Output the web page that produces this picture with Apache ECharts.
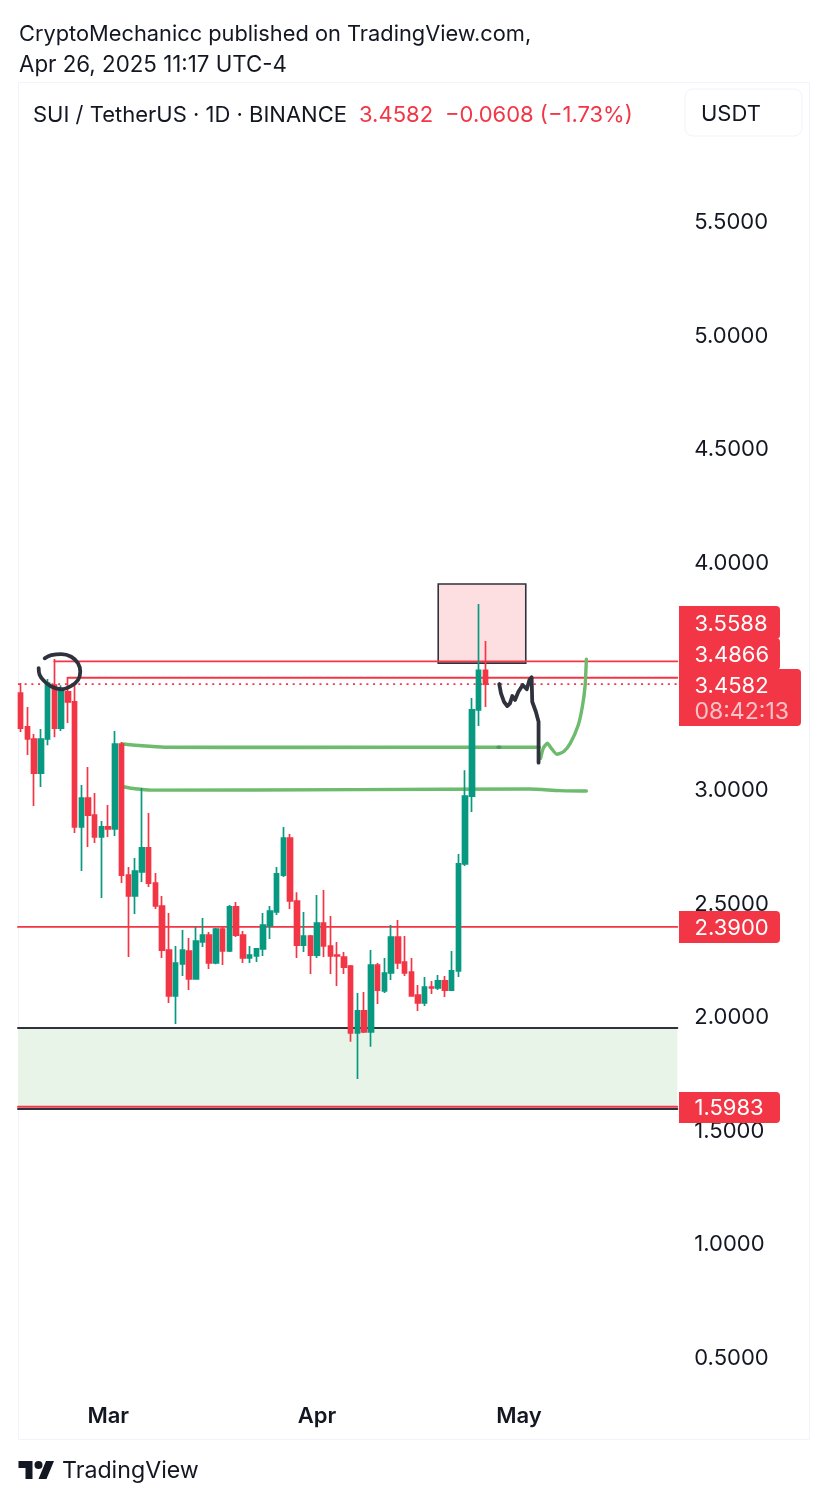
<!DOCTYPE html>
<html><head><meta charset="utf-8">
<style>html,body{margin:0;padding:0;background:#fff}#c{width:828px;height:1504px}</style>
<script src="https://cdn.jsdelivr.net/npm/echarts@6/dist/echarts.min.js"></script>
</head><body><div id="c"></div>
<script>
const dates=['Feb 16','Feb 17','Feb 18','Feb 19','Feb 20','Feb 21','Feb 22','Feb 23','Feb 24','Feb 25','Feb 26','Feb 27','Feb 28',
'Mar 1','Mar 2','Mar 3','Mar 4','Mar 5','Mar 6','Mar 7','Mar 8','Mar 9','Mar 10','Mar 11','Mar 12','Mar 13','Mar 14','Mar 15','Mar 16','Mar 17','Mar 18','Mar 19','Mar 20','Mar 21','Mar 22','Mar 23','Mar 24','Mar 25','Mar 26','Mar 27','Mar 28','Mar 29','Mar 30','Mar 31',
'Apr 1','Apr 2','Apr 3','Apr 4','Apr 5','Apr 6','Apr 7','Apr 8','Apr 9','Apr 10','Apr 11','Apr 12','Apr 13','Apr 14','Apr 15','Apr 16','Apr 17','Apr 18','Apr 19','Apr 20','Apr 21','Apr 22','Apr 23','Apr 24','Apr 25','Apr 26','Apr 27','Apr 28','Apr 29','Apr 30',
'May 1','May 2','May 3','May 4','May 5','May 6','May 7','May 8','May 9','May 10','May 11','May 12','May 13','May 14','May 15','May 16','May 17','May 18','May 19','May 20','May 21','May 22','May 23','May 24'];
const monthTicks={'Mar 1':'Mar','Apr 1':'Apr','May 1':'May'};
const priceTicks=[0.5,1,1.5,2,2.5,3,4,4.5,5,5.5];

const open=[3.419,3.270,3.217,3.067,3.217,3.454,3.265,3.424,3.380,2.830,2.957,2.882,2.786,2.830,2.821,3.195,2.618,2.526,2.632,2.738,2.583,2.482,2.288,2.086,2.227,2.284,2.161,2.324,2.354,2.231,2.380,2.284,2.478,2.354,2.253,2.262,2.293,2.394,2.456,2.618,2.781,2.504,2.310,2.350,2.266,2.407,2.306,2.266,2.257,2.218,1.923,2.020,1.928,2.222,2.108,2.187,2.345,2.235,2.191,2.090,2.055,2.125,2.121,2.152,2.112,2.196,2.667,2.966,3.345,3.519];
const high=[3.463,3.358,3.239,3.261,3.481,3.569,3.454,3.490,3.454,3.014,3.094,2.979,2.856,2.926,3.252,3.204,2.654,2.693,3.001,2.891,2.627,2.526,2.451,2.306,2.376,2.341,2.389,2.429,2.367,2.385,2.389,2.486,2.500,2.372,2.306,2.297,2.451,2.482,2.654,2.830,2.799,2.543,2.456,2.354,2.530,2.552,2.438,2.324,2.279,2.222,2.099,2.103,2.288,2.231,2.253,2.398,2.420,2.350,2.253,2.134,2.169,2.152,2.178,2.174,2.284,2.711,3.080,3.397,3.811,3.648];
const low=[3.248,3.147,2.922,3.006,3.190,3.225,3.252,3.287,2.803,2.636,2.742,2.759,2.517,2.786,2.790,2.583,2.257,2.447,2.588,2.566,2.469,2.253,2.055,1.963,2.174,2.112,2.161,2.302,2.205,2.226,2.222,2.280,2.345,2.231,2.231,2.235,2.262,2.337,2.442,2.610,2.469,2.253,2.280,2.183,2.253,2.257,2.183,2.130,2.183,1.884,1.720,1.923,1.862,2.051,2.099,2.156,2.205,2.174,2.086,2.020,2.042,2.095,2.112,2.081,2.108,2.169,2.658,2.896,3.274,3.358];
const close=[3.265,3.217,3.067,3.217,3.463,3.265,3.424,3.380,2.830,2.957,2.882,2.786,2.830,2.821,3.195,2.618,2.526,2.636,2.738,2.583,2.482,2.288,2.086,2.231,2.288,2.161,2.328,2.354,2.231,2.380,2.284,2.478,2.354,2.253,2.266,2.293,2.398,2.460,2.623,2.781,2.504,2.310,2.350,2.266,2.407,2.306,2.262,2.262,2.213,1.923,2.020,1.928,2.222,2.112,2.187,2.345,2.231,2.187,2.086,2.055,2.125,2.121,2.152,2.112,2.196,2.667,2.966,3.345,3.519,3.4582];

// horizontal levels: [first bar index, price]
const resistanceHigh=[[5,3.5588],[97.5,3.5588]];
const resistanceLow=[[7,3.4866],[97.5,3.4866]];
const lastPrice=[[-0.4,3.4582],[97.5,3.4582]];
const midLevel=[[-0.4,2.39],[97.5,2.39]];
const lowLevel=[[-0.4,1.5983],[97.5,1.5983]];
const zoneTop=[[-0.4,1.945],[97.5,1.945]];
const zoneBottom=[[-0.4,1.588],[97.5,1.588]];
const supplyBox={x0:62,x1:75,top:3.899,bottom:3.551};
// hand drawings, [fractional bar index, price]
const greenUpper=[[15.2,3.195],[18,3.187],[21.4,3.181],[40,3.180],[77,3.181]];
const greenLower=[[15.2,3.007],[17,2.998],[19.4,2.992],[50,2.994],[75.6,2.997],[80,2.990],[84,2.988]];
const greenCurve=[[77.2,3.132],[77.6,3.176],[78.2,3.198],[78.8,3.176],[79.6,3.150],[80.6,3.161],[81.6,3.198],[82.8,3.279],[83.4,3.359],[83.8,3.448],[84,3.568]];
const greenSpeck=[[70.9,3.181],[71.1,3.181]];
const blackPath=[[71.06,3.459],[71.32,3.418],[71.76,3.381],[72.25,3.362],[72.65,3.374],[73,3.406],[73.4,3.389],[73.9,3.425],[74.55,3.455],[75.15,3.436],[75.54,3.477],[75.87,3.489],[75.96,3.381],[76.5,3.337],[76.9,3.293],[76.9,3.113]];
const blackCircle=[[3.56,3.572],[4.55,3.586],[6.03,3.591],[7.51,3.579],[8.51,3.550],[8.85,3.513],[8.51,3.477],[7.51,3.451],[6.03,3.436],[4.55,3.448],[3.56,3.470],[2.82,3.499],[2.67,3.529]];

const RED='#f23645',GREEN='#089981',INK='#131722',DARK='#2f323c',HAND='#6dbb6d';
const FONT='Inter, "Noto Sans", sans-serif';
const candles=open.map((o,i)=>[o,close[i],low[i],high[i]]);
const line=(data,color,width,z,extra)=>Object.assign({type:'line',xAxisIndex:1,yAxisIndex:0,data,symbol:'none',silent:true,z,
  lineStyle:{color,width,cap:'round',join:'round'},animation:false},extra||{});
const T=(x,y,text,size,fill,w,align)=>({type:'text',x,y,silent:true,z:100,style:{text,fontFamily:FONT,fontSize:size,fontWeight:w||400,fill,textAlign:align||'left',textVerticalAlign:'middle'}});
const tag=(y,h,w)=>({type:'rect',silent:true,z:90,shape:{x:679,y,width:w,height:h,r:[0,4,4,0]},style:{fill:RED}});

const chart=echarts.init(document.getElementById('c'));
chart.setOption({
  animation:false,backgroundColor:'#fff',
  grid:{left:17.3,top:82,width:660,height:1316,containLabel:false},
  xAxis:[
    {type:'category',data:dates,boundaryGap:true,axisLine:{show:false},axisTick:{show:false},splitLine:{show:false},
     axisLabel:{interval:(i,v)=>v in monthTicks,formatter:v=>monthTicks[v]||'',color:INK,fontFamily:FONT,fontSize:22,fontWeight:600,margin:6,verticalAlign:'top',lineHeight:24}},
    {type:'value',show:false,min:-0.5,max:97.5,splitLine:{show:false}}
  ],
  yAxis:{type:'value',position:'right',min:0.3165,max:6.1087,axisLine:{show:false},axisTick:{show:false},splitLine:{show:false},
     axisLabel:{customValues:priceTicks,formatter:v=>v.toFixed(4),color:INK,fontFamily:FONT,fontSize:22,margin:17,align:'left',verticalAlign:'top',lineHeight:4}},
  series:[
    line(zoneTop,DARK,2,3,{markArea:{silent:true,z:1,itemStyle:{color:'#e8f4e8'},data:[[{xAxis:-0.4,yAxis:1.945},{xAxis:97.5,yAxis:1.588}]]}}),
    line(zoneBottom,DARK,2,3),
    line(lowLevel,RED,1.8,4),
    line(midLevel,RED,1.8,4),
    line(resistanceHigh,RED,1.8,4),
    line(resistanceLow,RED,1.8,4),
    line(lastPrice,RED,1.8,4,{lineStyle:{color:RED,width:1.8,type:[2,4.7]}}),
    line(greenUpper,HAND,3.6,5,{smooth:0.2}),
    line(greenLower,HAND,3.4,5,{smooth:0.2}),
    line(greenSpeck,'#4f9a5f',3.6,5),
    line([[supplyBox.x0,supplyBox.top],[supplyBox.x1,supplyBox.top]],DARK,0,2,{lineStyle:{opacity:0},
      markArea:{silent:true,z:2,itemStyle:{color:'rgba(242,54,69,0.16)',borderColor:DARK,borderWidth:1.6},
      data:[[{xAxis:supplyBox.x0,yAxis:supplyBox.top},{xAxis:supplyBox.x1,yAxis:supplyBox.bottom}]]}}),
    {type:'candlestick',xAxisIndex:0,yAxisIndex:0,data:candles,barWidth:5,z:6,silent:true,
     itemStyle:{color:GREEN,color0:RED,borderColor:GREEN,borderColor0:RED,borderWidth:1.7}},
    line(greenCurve,HAND,3.4,7,{smooth:0.2}),
    line(blackPath,DARK,3.8,8),
    line(blackCircle,DARK,3.8,8,{smooth:0.4})
  ],
  graphic:[
    {type:'rect',silent:true,z:0,shape:{x:18.5,y:82.5,width:791,height:1357},style:{fill:'none',stroke:'#f0f3fa',lineWidth:1}},
    {type:'rect',silent:true,z:50,shape:{x:685,y:89,width:117,height:47,r:8},style:{fill:'#fff',stroke:'#f0f3fa',lineWidth:1}},
    T(19,34,'CryptoMechanicc published on TradingView.com,',21.8,INK),
    T(19,65,'Apr 26, 2025 11:17 UTC-4',22.3,INK),
    T(33,115,'SUI / TetherUS · 1D · BINANCE',22,INK),
    T(359,115,'3.4582',22,RED),
    T(445,115,'−0.0608 (−1.73%)',22,RED),
    T(701,114,'USDT',22,INK),
    tag(606,33,101),tag(638,32,101),tag(669,57,122),tag(911,32,101),tag(1092,31,101),
    T(694.5,624,'3.5588',22,'#fff'),T(694.5,655,'3.4866',22,'#fff'),T(694.5,686,'3.4582',22,'#fff'),
    T(694.5,712,'08:42:13',23,'rgba(255,255,255,0.7)'),
    T(694.5,928,'2.3900',22,'#fff'),T(694.5,1108,'1.5983',22,'#fff'),
    {type:'group',x:18.5,y:1457,silent:true,z:100,children:[
      {type:'polygon',shape:{points:[[0,4],[14,4],[14,22],[7,22],[7,11],[0,11]]},style:{fill:INK}},
      {type:'polygon',shape:{points:[[20,22],[28,22],[35.5,4],[27.5,4]]},style:{fill:INK}},
      {type:'circle',shape:{cx:20,cy:8,r:4},style:{fill:INK}}
    ]},
    T(62,1471,'TradingView',23.2,INK)
  ]
});
</script></body></html>
